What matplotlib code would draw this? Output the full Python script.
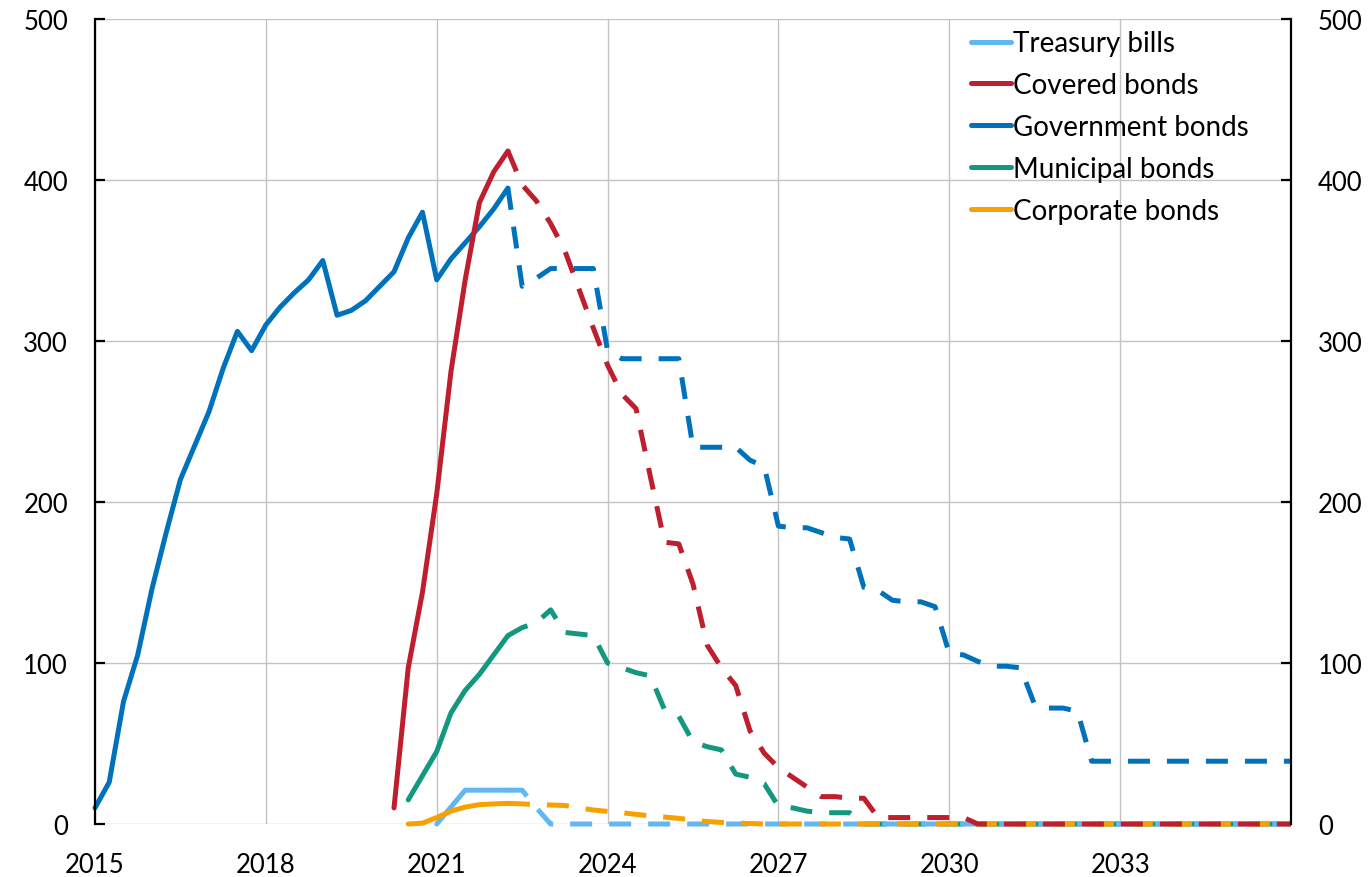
import numpy as np
import pandas as pd
import matplotlib
matplotlib.use("Agg")
import matplotlib.pyplot as plt
from matplotlib.lines import Line2D

plt.rcParams['font.family'] = ['Lato', 'DejaVu Sans']

# ---------------- data (quarterly) ----------------
series_names = ["Treasury bills", "Covered bonds", "Government bonds",
                "Municipal bonds", "Corporate bonds"]
series_colors = ["#63b7f0", "#be1e2d", "#0072bc", "#13977e", "#f7a000"]

# first quarter of the historical (solid) part of each series
hist_start = ["2021Q1", "2020Q2", "2015Q1", "2020Q3", "2020Q3"]
proj_start = "2022Q2"

treasury_hist = [0, 10.5, 21, 21, 21, 21]
covered_hist = [10, 97, 144, 205, 281, 338, 386, 405, 418]
government_hist = [10, 26, 76, 105, 146, 181, 214, 235, 256, 283, 306, 294,
                   310, 321, 330, 338, 350, 316, 319, 325, 334, 343, 364, 380,
                   338, 351, 361, 371, 382, 395]
municipal_hist = [15, 30, 45, 69, 83, 93, 105, 117]
corporate_hist = [0, 0.5, 4, 8, 10.5, 12, 12.5, 12.8]

# projections 2022Q2 .. 2036Q1 (dashed)
treasury_proj = [21, 21, 10, 0, 0, 0, 0, 0, 0, 0, 0, 0, 0, 0, 0, 0,
                 0, 0, 0, 0, 0, 0, 0, 0, 0, 0, 0, 0, 0, 0, 0, 0,
                 0, 0, 0, 0, 0, 0, 0, 0, 0, 0, 0, 0, 0, 0, 0, 0,
                 0, 0, 0, 0, 0, 0, 0, 0]
covered_proj = [418, 397, 387, 373, 356, 332, 308, 285, 267, 258, 216, 175,
                174, 149, 111, 97, 86, 58, 44, 35, 29, 23, 17, 17,
                16, 16, 4, 4, 4, 4, 4, 4, 4, 0, 0, 0,
                0, 0, 0, 0, 0, 0, 0, 0, 0, 0, 0, 0,
                0, 0, 0, 0, 0, 0, 0, 0]
government_proj = [395, 334, 339, 345, 345, 345, 345, 294, 289, 289, 289, 289,
                   289, 234, 234, 234, 234, 226, 222, 185, 184, 184, 181, 178,
                   177, 147, 145, 139, 138, 138, 135, 106, 105, 101, 98, 98,
                   97, 74, 72, 72, 70, 39, 39, 39, 39, 39, 39, 39,
                   39, 39, 39, 39, 39, 39, 39, 39]
municipal_proj = [117, 122, 125, 133, 119, 118, 117, 100, 97, 94, 92, 71,
                  67, 51, 48, 46, 31, 29, 25, 11, 10, 8, 7, 7,
                  7, 0, 0, 0, 0, 0, 0, 0, 0, 0, 0, 0,
                  0, 0, 0, 0, 0, 0, 0, 0, 0, 0, 0, 0,
                  0, 0, 0, 0, 0, 0, 0, 0]
corporate_proj = [12.8, 12.5, 12, 11.8, 11.5, 10, 8.7, 7.8, 7, 6, 5, 4.3,
                  3.5, 2.5, 1.5, 1, 0.5, 0.3, 0, 0, 0, 0, 0, 0,
                  0, 0, 0, 0, 0, 0, 0, 0, 0, 0, 0, 0,
                  0, 0, 0, 0, 0, 0, 0, 0, 0, 0, 0, 0,
                  0, 0, 0, 0, 0, 0, 0, 0]

hist_values = [treasury_hist, covered_hist, government_hist, municipal_hist, corporate_hist]
proj_values = [treasury_proj, covered_proj, government_proj, municipal_proj, corporate_proj]

x_ticks = [2015, 2018, 2021, 2024, 2027, 2030, 2033]
y_ticks = [0, 100, 200, 300, 400, 500]


def quarter_years(start, n):
    p = pd.period_range(start, periods=n, freq="Q")
    return np.array([q.year + (q.quarter - 1) / 4 for q in p])


# ---------------- figure ----------------
W, H = 1371, 878
fig = plt.figure(figsize=(W / 100, H / 100), dpi=100)
ax = fig.add_axes([95 / W, 53 / H, 1196 / W, 805 / H])

lw = 3.6
dash = (0, (4.4, 3.4))
zorders = [3, 6, 5, 2, 4]

for name, col, hs, hv, pv, z in zip(series_names, series_colors, hist_start,
                                    hist_values, proj_values, zorders):
    xh = quarter_years(hs, len(hv))
    ax.plot(xh, hv, color=col, lw=lw, solid_capstyle="round",
            solid_joinstyle="round", zorder=z, clip_on=False)
    xp = quarter_years(proj_start, len(pv))
    ax.plot(xp, pv, color=col, lw=lw, linestyle=dash, dash_capstyle="butt",
            dash_joinstyle="round", zorder=z, clip_on=False)

ax.set_xlim(2015, 2036)
ax.set_ylim(0, 500)
ax.set_xticks(x_ticks)
ax.set_xticklabels([str(t) for t in x_ticks])
ax.set_yticks(y_ticks)
ax.set_yticklabels([str(t) for t in y_ticks])

ax.grid(True, color="#c3c3c3", lw=1.0, zorder=0)
ax.set_axisbelow(True)

for s in ["top", "bottom"]:
    ax.spines[s].set_visible(False)
for s in ["left", "right"]:
    ax.spines[s].set_color("black")
    ax.spines[s].set_linewidth(1.6)
    ax.spines[s].set_zorder(7)

fs_tick = 18.5
fs_leg = 20
ax.tick_params(axis="y", which="both", left=True, right=True, labelleft=True,
               labelright=True, direction="in", length=7.5, width=1.6,
               pad=19.5, labelsize=fs_tick, colors="black")
ax.tick_params(axis="x", length=0, pad=20.5, labelsize=fs_tick, colors="black")

handles = [Line2D([0], [0], color=c, lw=lw, solid_capstyle="round") for c in series_colors]
ax.legend(handles, series_names, loc="upper left", bbox_to_anchor=(0.7324, 0.986),
          frameon=False, fontsize=fs_leg, handlelength=1.44, handletextpad=0.07,
          labelspacing=0.57, borderpad=0, borderaxespad=0)

fig.savefig("out.png", dpi=100)
